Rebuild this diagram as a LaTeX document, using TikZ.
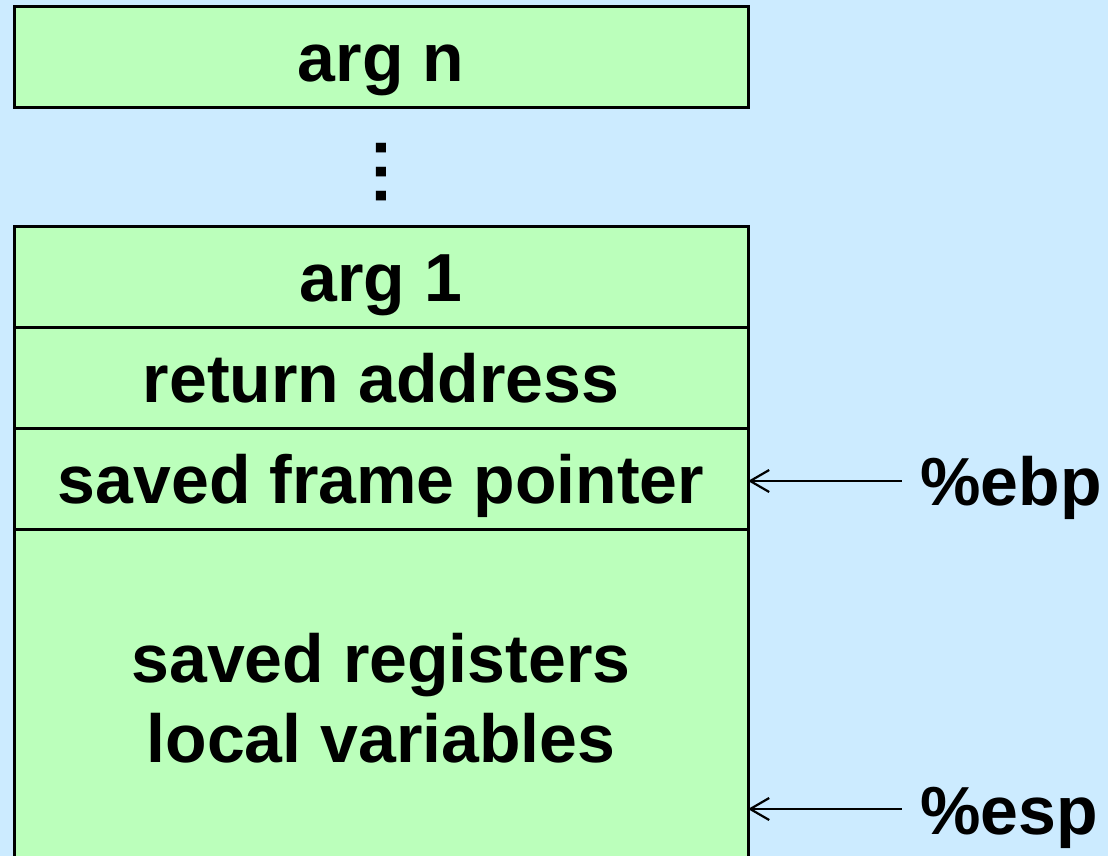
\documentclass[tikz,border=0pt]{standalone}
\usepackage{fontspec}
\setmainfont{Liberation Sans}
\usepackage{xcolor}
\usetikzlibrary{positioning,arrows.meta}

\definecolor{slidebg}{RGB}{204,235,255}
\definecolor{cellgreen}{RGB}{187,255,187}

\tikzset{
    bigbold/.style={font=\fontsize{68}{80}\selectfont\bfseries},
    cellbase/.style={bigbold, draw, line width=3pt, fill=cellgreen, outer sep=0pt, inner sep=0pt,
        minimum width=734pt, minimum height=101pt, align=center},
    cell/.style={cellbase, text height=49pt, text depth=0pt},
    reg/.style={bigbold, anchor=base west, inner sep=0pt},
    ptr/.style={line width=2.2pt, {Straight Barb[length=19pt, width=22pt, line width=2.2pt]}-}
}

\begin{document}
\begin{tikzpicture}[x=1pt, y=-1pt]
    % Background
    \fill [slidebg] (0,0) rectangle (1108,856);
    \useasboundingbox (0,0) rectangle (1108,856);

    % Arguments
    \node [cell] (argn) at (381,57.5) {arg n};
    \node [bigbold, inner sep=0pt, rotate=90] (dots) at (381,172)
        {.\hspace{5pt}.\hspace{5pt}.};

    % Stack frame
    \node [cell] (argone) at (381,276.5) {arg 1};
    \node [cell, below=0pt of argone] (retaddr) {return address};
    \node [cell, below=0pt of retaddr] (savedfp) {saved frame pointer};
    \node [cellbase, below=0pt of savedfp, minimum height=338pt] (locals)
        {saved registers\\local variables};

    % Registers
    \node [reg] (ebp) at (920,505) {\%ebp};
    \node [reg] (esp) at (920,834) {\%esp};
    \coordinate (ebptail) at (902,481);
    \coordinate (esptail) at (902,809);
    \draw [ptr] (ebptail -| savedfp.east) -- (ebptail);
    \draw [ptr] (esptail -| locals.east) -- (esptail);
\end{tikzpicture}
\end{document}
